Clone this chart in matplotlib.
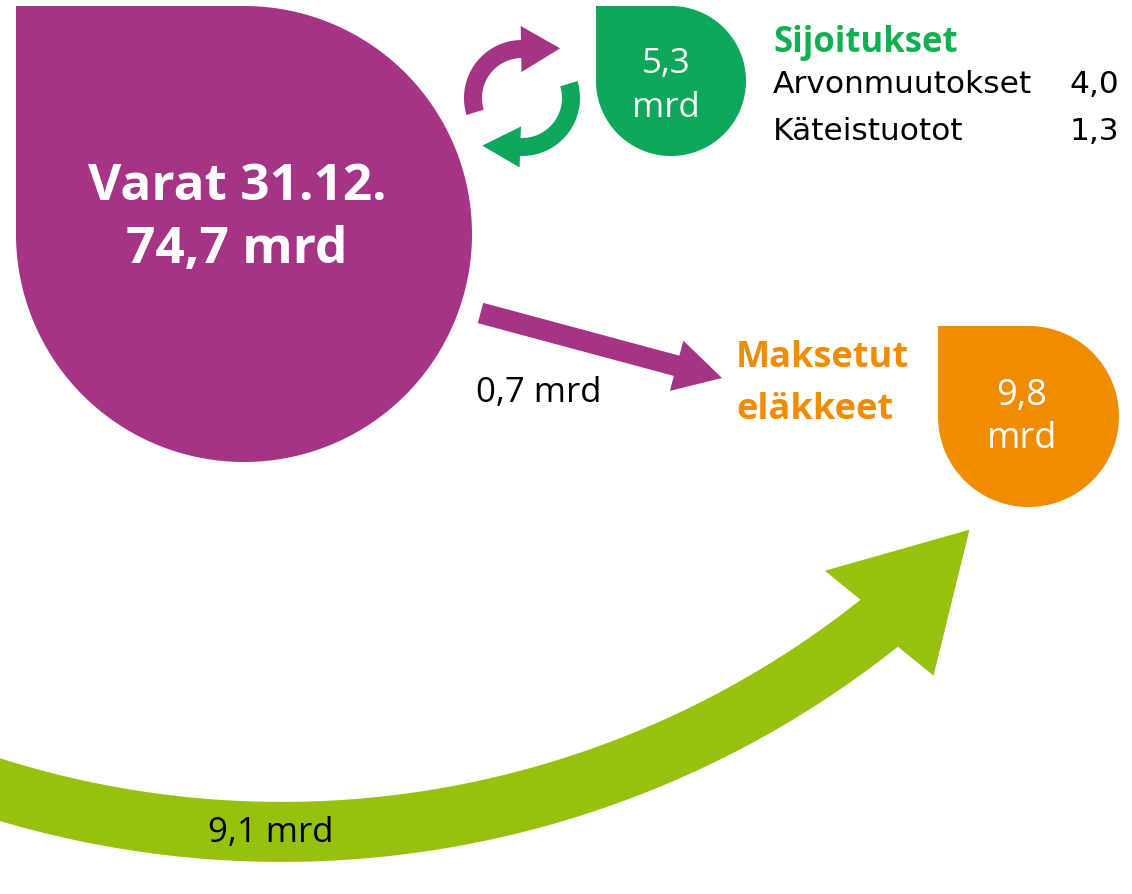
import numpy as np, matplotlib
matplotlib.use('Agg'); import matplotlib.pyplot as plt
from matplotlib.patches import Polygon, FancyArrow

# ---- values (mrd EUR) ----
assets = 74.7            # Varat 31.12.
investments = 5.3        # Sijoitukset
inv_items = ['Arvonmuutokset', 'Käteistuotot']
inv_values = [4.0, 1.3]
pensions = 9.8           # Maksetut eläkkeet
flow_assets = 0.7        # from assets to pensions
flow_contrib = 9.1       # contributions to pensions

PURPLE = '#A53386'; GREEN = '#0EA65A'; GREEN_T = '#12AE52'
ORANGE = '#F08C00'; LIME = '#97C10F'

def fmt(v): return f'{v:.1f}'.replace('.', ',')

def drop(ax, cx, cy, r, col):
    # circle with square top-left corner
    t = np.radians(np.linspace(-90, 180, 200))
    pts = np.r_[[[cx - r, cy - r]], np.c_[cx + r*np.cos(t), cy + r*np.sin(t)]]
    ax.add_patch(Polygon(pts, closed=True, fc=col, ec='none'))

def arc_arrow(ax, c, r0, r1, a0, a1, hl, hw, col, tilt=0):
    t = np.radians(np.linspace(a0, a1, 200))
    cx, cy = c
    outer = np.c_[cx + r1*np.cos(t), cy + r1*np.sin(t)]
    inner = np.c_[cx + r0*np.cos(t), cy + r0*np.sin(t)]
    te = t[-1]; s = np.sign(a1 - a0); rm = (r0 + r1) / 2
    base = np.array([cx + rm*np.cos(te), cy + rm*np.sin(te)])
    d = s*np.array([-np.sin(te), np.cos(te)])
    a = np.radians(tilt); R = np.array([[np.cos(a), -np.sin(a)], [np.sin(a), np.cos(a)]])
    d = R @ d; n = np.array([-d[1], d[0]])
    tip = base + hl*d
    head = [base + n*hw/2, tip, base - n*hw/2]
    # order so the polygon doesn't cross itself
    if np.dot(outer[-1] - base, n) < 0: head = head[::-1]
    pts = np.r_[outer, head, inner[::-1]]
    ax.add_patch(Polygon(pts, closed=True, fc=col, ec='none'))

fig = plt.figure(figsize=(11.32, 8.94), dpi=100)
ax = fig.add_axes([0, 0, 1, 1])
ax.set_xlim(0, 1132); ax.set_ylim(894, 0); ax.axis('off')

# big shapes
drop(ax, 244, 234, 228, PURPLE)
drop(ax, 671, 81, 75, GREEN)
drop(ax, 1028.5, 416.5, 90.5, ORANGE)

# cycle arrows
arc_arrow(ax, (522, 98), 40, 58, 163, 269, 39, 46, PURPLE)
arc_arrow(ax, (522, 98), 40, 58, -17, 92, 38, 41, GREEN)

# contributions arrow
arc_arrow(ax, (281.6, -128.1), 930, 990, 112, 51.5, 130, 151, LIME, tilt=-7.5)

# assets -> pensions
ax.add_patch(FancyArrow(480.5, 313, 241.5, 65, width=21, head_width=52, head_length=47,
                        length_includes_head=True, fc=PURPLE, ec='none'))

OS = 'Open Sans'; DV = 'DejaVu Sans'
ax.text(237, 200, 'Varat 31.12.', ha='center', va='baseline', color='white',
        fontsize=37, fontweight='bold', family=OS)
ax.text(237, 263, f'{fmt(assets)} mrd', ha='center', va='baseline', color='white',
        fontsize=37, fontweight='bold', family=OS)

ax.text(666, 73, fmt(investments), ha='center', va='baseline', color='white', fontsize=25, family=OS)
ax.text(666, 117, 'mrd', ha='center', va='baseline', color='white', fontsize=25, family=OS)
ax.text(1022, 405, fmt(pensions), ha='center', va='baseline', color='white', fontsize=26, family=OS)
ax.text(1022, 448, 'mrd', ha='center', va='baseline', color='white', fontsize=26, family=OS)

ax.text(773, 52, 'Sijoitukset', ha='left', va='baseline', color=GREEN_T, fontsize=25,
        fontweight='bold', family=OS)
for i, (lab, v) in enumerate(zip(inv_items, inv_values)):
    y = [93, 140][i]
    ax.text(773, y, lab, ha='left', va='baseline', fontsize=22.5, family=DV)
    ax.text(1119, y, fmt(v), ha='right', va='baseline', fontsize=22.5, family=DV)

ax.text(736, 367, 'Maksetut', ha='left', va='baseline', color=ORANGE, fontsize=26,
        fontweight='bold', family=OS)
ax.text(736, 419, 'eläkkeet', ha='left', va='baseline', color=ORANGE, fontsize=26,
        fontweight='bold', family=OS)

ax.text(476, 402, f'{fmt(flow_assets)} mrd', ha='left', va='baseline', fontsize=25, family=OS)
ax.text(208, 842, f'{fmt(flow_contrib)} mrd', ha='left', va='baseline', fontsize=25, family=OS)

fig.savefig('out.png', dpi=100)
